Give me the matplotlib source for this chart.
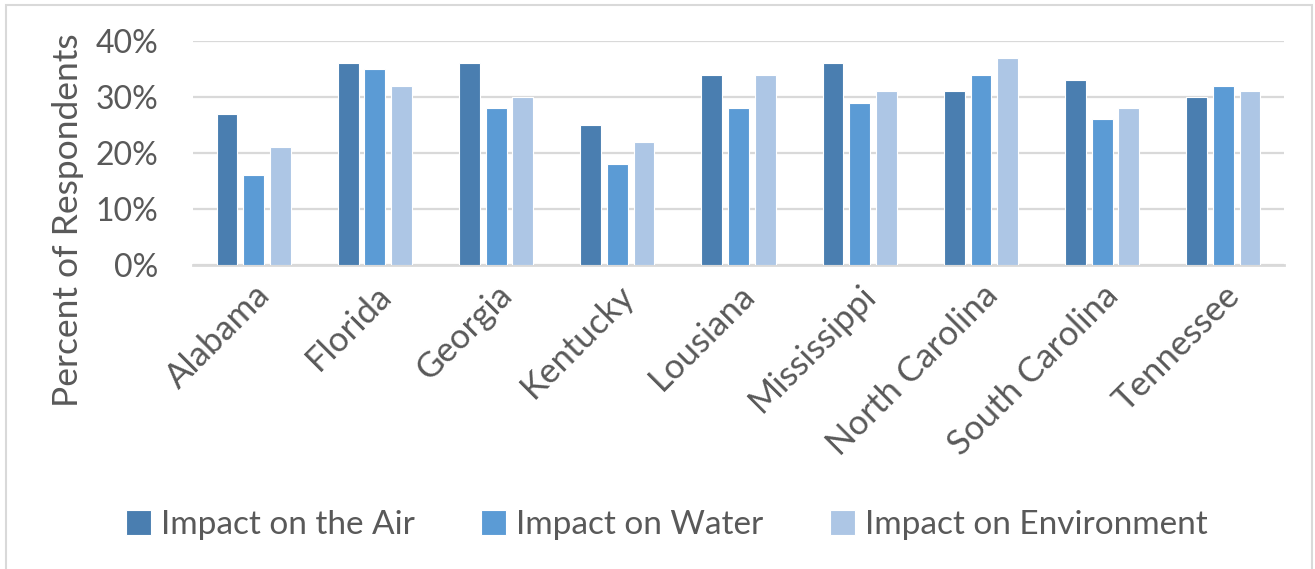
import matplotlib.pyplot as plt
import numpy as np
from matplotlib.patches import Rectangle
from matplotlib.ticker import PercentFormatter

states = ["Alabama", "Florida", "Georgia", "Kentucky", "Lousiana",
          "Mississippi", "North Carolina", "South Carolina", "Tennessee"]
air = [27, 36, 36, 25, 34, 36, 31, 33, 30]
water = [16, 35, 28, 18, 28, 29, 34, 26, 32]
environment = [21, 32, 30, 22, 34, 31, 37, 28, 31]

series = [
    ("Impact on the Air", air, "#4A7EB0"),
    ("Impact on Water", water, "#5B9BD5"),
    ("Impact on Environment", environment, "#ADC6E5"),
]

plt.rcParams["font.family"] = ["Lato", "DejaVu Sans"]
text_color = "#595959"

fig = plt.figure(figsize=(13.15, 5.69), dpi=100)
ax = fig.add_axes([0.1468, 0.5343, 0.8296, 0.3937])

x = np.arange(len(states))
width = 0.172
step = 0.22
for i, (name, vals, color) in enumerate(series):
    ax.bar(x + (i - 1) * step, np.array(vals) / 100, width,
           color=color, edgecolor="white", linewidth=0.8, label=name, zorder=3)

ax.set_xlim(-0.5, len(states) - 0.5)
ax.set_ylim(0, 0.4)
ax.set_yticks([0, 0.1, 0.2, 0.3, 0.4])
ax.yaxis.set_major_formatter(PercentFormatter(1.0, decimals=0))
ax.grid(axis="y", color="#D9D9D9", linewidth=1.6, zorder=0)
for side in ["top", "right", "left"]:
    ax.spines[side].set_visible(False)
ax.spines["bottom"].set_color("#D9D9D9")
ax.spines["bottom"].set_linewidth(2)
ax.tick_params(axis="both", length=0, labelcolor=text_color)
ax.tick_params(axis="y", pad=25, labelsize=23)
ax.set_xticks(x)
ax.set_xticklabels(states, rotation=45, ha="right", rotation_mode="anchor")
ax.tick_params(axis="x", pad=10, labelsize=25)
ax.set_ylabel("Percent of Respondents", fontsize=25.5, color=text_color)
ax.yaxis.set_label_coords(-0.1, 0.2)

fig.legend(loc="center", bbox_to_anchor=(0.507, 0.077), ncol=3, frameon=False,
           fontsize=24, labelcolor=text_color, handlelength=0.75, handleheight=0.75,
           handletextpad=0.3, columnspacing=2.0)

# light frame around the chart area
fig.patches.append(Rectangle((0.0046, -0.01), 0.993, 1.0012,
                             transform=fig.transFigure, fill=False,
                             edgecolor="#D9D9D9", linewidth=1.5))

fig.savefig("out.png", dpi=100)
